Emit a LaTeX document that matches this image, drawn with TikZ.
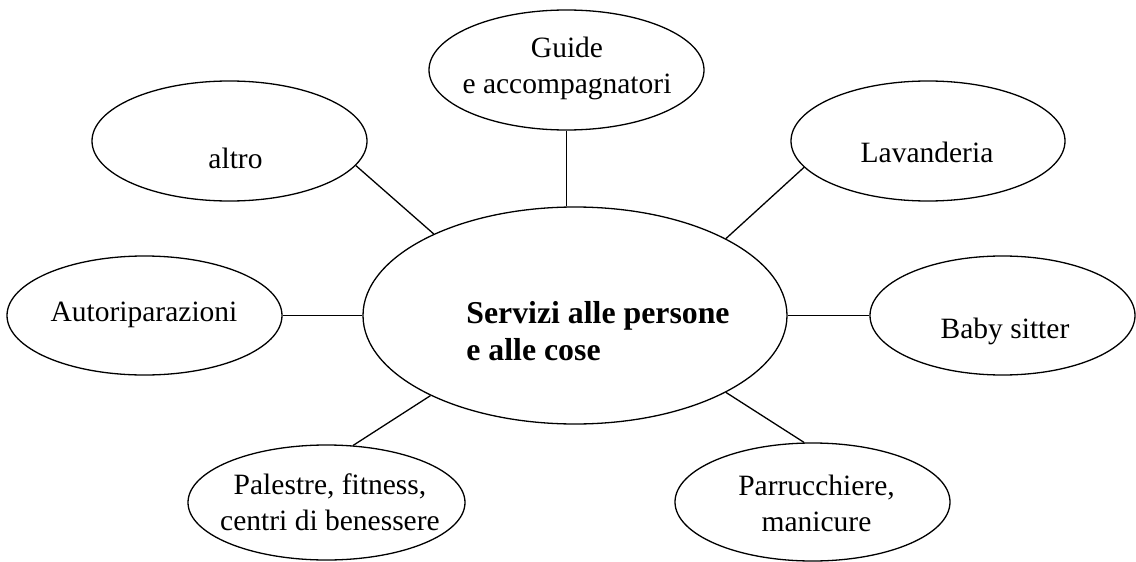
\documentclass[tikz,border=0pt]{standalone}
\usepackage{fontspec}
\setmainfont{Liberation Serif}
\usetikzlibrary{shapes.geometric}
\begin{document}
\begin{tikzpicture}[x=0.5pt,y=-0.5pt,
  bubble/.style={draw,ellipse,line width=0.65pt,inner sep=0pt},
  leaf/.style={font=\fontsize{14.75pt}{17.6pt}\selectfont,align=center,anchor=base,inner sep=0pt},
  hub/.style={font=\fontsize{15.9pt}{18.5pt}\selectfont\bfseries,align=left,anchor=base west,inner sep=0pt},
  link/.style={line width=0.65pt}]
\useasboundingbox (0,0) rectangle (1136,562);

% outer bubbles
\node[bubble,minimum width=137.5pt,minimum height=60pt] (altro) at (229.5,141) {};
\node[bubble,minimum width=137.5pt,minimum height=60pt] (guide) at (566.5,70) {};
\node[bubble,minimum width=137pt,minimum height=60pt] (lav) at (928,141) {};
\node[bubble,minimum width=137.5pt,minimum height=59.5pt] (auto) at (144.5,315.5) {};
\node[bubble,minimum width=132.5pt,minimum height=59.5pt] (baby) at (1002.5,315.5) {};
\node[bubble,minimum width=138.5pt,minimum height=57.5pt] (pal) at (326.5,502.5) {};
\node[bubble,minimum width=137.5pt,minimum height=59pt] (parr) at (812.5,502) {};

% central bubble
\node[bubble,minimum width=212pt,minimum height=108.5pt] (hub) at (575,315.5) {};

% labels (base anchor sits on the last line of each label)
\node[leaf] (altroT) at (235.5,168) {altro};
\node[leaf] (guideT) at (567,93) {Guide\\e accompagnatori};
\node[leaf] (lavT) at (927,162) {Lavanderia};
\node[leaf] (autoT) at (144,321) {Autoriparazioni};
\node[leaf] (babyT) at (1005,338) {Baby sitter};
\node[leaf] (palT) at (330,530) {Palestre, fitness,\\ centri di benessere};
\node[leaf] (parrT) at (816.5,531) {Parrucchiere,\\manicure};
\node[hub] (hubT) at (466,360) {Servizi alle persone\\e alle cose};

% connectors
\draw[link] (altro.-11) -- (hub.150);
\draw[link] (guide.south) -- (guide.south |- hub.north);
\draw[link] (lav.192) -- (hub.27);
\draw[link] (auto.east) -- (hub.west);
\draw[link] (hub.east) -- (baby.west);
\draw[link] (pal.65) -- (hub.209);
\draw[link] (parr.98) -- (hub.-27);
\end{tikzpicture}
\end{document}
